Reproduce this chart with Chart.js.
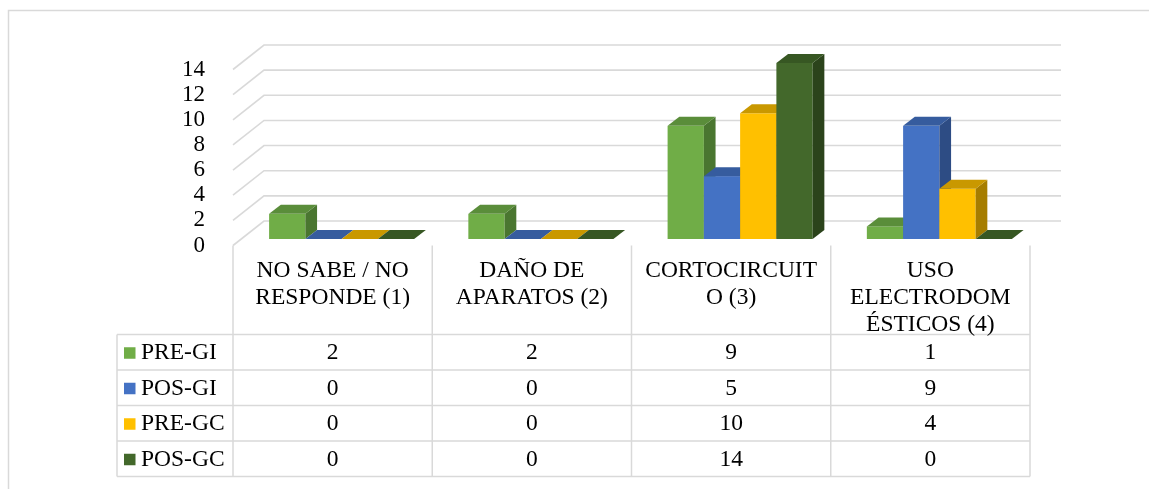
<!DOCTYPE html>
<html lang="es">
<head>
<meta charset="utf-8">
<title>Causas</title>
<script src="https://cdn.jsdelivr.net/npm/chart.js@4/dist/chart.umd.min.js"></script>
<style>
  html, body { margin: 0; padding: 0; background: #fff; }
  #contenedor { width: 1149px; height: 489px; }
</style>
</head>
<body>
<div id="contenedor"><canvas id="graficoCausas" width="1149" height="489"></canvas></div>
<script>
// Datos del gráfico
const categorias = [
    ['NO SABE / NO', 'RESPONDE (1)'],
    ['DAÑO DE', 'APARATOS (2)'],
    ['CORTOCIRCUIT', 'O (3)'],
    ['USO', 'ELECTRODOM', 'ÉSTICOS (4)']
];
const grupos = ['PRE-GI', 'POS-GI', 'PRE-GC', 'POS-GC'];
const preGI = [2, 2, 9, 1];
const posGI = [0, 0, 5, 9];
const preGC = [0, 0, 10, 4];
const posGC = [0, 0, 14, 0];
const marcasY = [0, 2, 4, 6, 8, 10, 12, 14];

const FUENTE = '"Liberation Serif", "Times New Roman", serif';
const GRIS = '#d9d9d9';

// colores de cada serie: cara frontal, superior y lateral
const caras = [
    { frente: '#70ad47', arriba: '#5a8d3a', lado: '#4a7630' },
    { frente: '#4472c4', arriba: '#365c9e', lado: '#2d4c84' },
    { frente: '#ffc000', arriba: '#c99800', lado: '#a67d00' },
    { frente: '#43682b', arriba: '#375723', lado: '#2b431b' }
];

// perspectiva: desplazamientos respecto al plano frontal de las barras
const frente = { dx: -9, dy: 6.5 };
const fondo = { dx: 22, dy: -18 };
const prof = { dx: 11.7, dy: -9 };

// fondo blanco, marco y líneas de la pared
const paredes = {
    id: 'paredes',
    beforeDraw(chart) {
        const { ctx, width, height } = chart;
        ctx.save();
        ctx.fillStyle = '#fff';
        ctx.fillRect(0, 0, width, height);
        ctx.strokeStyle = GRIS;
        ctx.lineWidth = 1.5;
        ctx.strokeRect(8.5, 10.5, width + 20, height + 20);
        ctx.restore();
    },
    beforeDatasetsDraw(chart) {
        const { ctx, chartArea: a, scales: { y } } = chart;
        ctx.save();
        ctx.strokeStyle = GRIS;
        ctx.lineWidth = 1.6;
        marcasY.forEach(v => {
            const py = y.getPixelForValue(v);
            ctx.beginPath();
            ctx.moveTo(a.left + frente.dx, py + frente.dy);
            ctx.lineTo(a.left + fondo.dx, py + fondo.dy);
            ctx.lineTo(a.right + fondo.dx, py + fondo.dy);
            ctx.stroke();
        });
        ctx.restore();
    }
};

// barras en 3D dibujadas a partir de los elementos de Chart.js
const barras3d = {
    id: 'barras3d',
    beforeDatasetDraw() {
        return false;
    },
    afterDatasetsDraw(chart) {
        const ctx = chart.ctx;
        ctx.save();
        chart.data.labels.forEach((_, j) => {
            chart.data.datasets.forEach((ds, i) => {
                const bar = chart.getDatasetMeta(i).data[j];
                const { x, y, base, width } = bar.getProps(['x', 'y', 'base', 'width'], true);
                const l = x - width / 2;
                const r = x + width / 2;
                const c = caras[i];
                if (base - y > 0.5) {
                    ctx.fillStyle = c.frente;
                    ctx.fillRect(l, y, width, base - y);
                    ctx.fillStyle = c.lado;
                    ctx.beginPath();
                    ctx.moveTo(r, y);
                    ctx.lineTo(r + prof.dx, y + prof.dy);
                    ctx.lineTo(r + prof.dx, base + prof.dy);
                    ctx.lineTo(r, base);
                    ctx.closePath();
                    ctx.fill();
                }
                ctx.fillStyle = c.arriba;
                ctx.beginPath();
                ctx.moveTo(l, y);
                ctx.lineTo(r, y);
                ctx.lineTo(r + prof.dx, y + prof.dy);
                ctx.lineTo(l + prof.dx, y + prof.dy);
                ctx.closePath();
                ctx.fill();
            });
        });
        ctx.restore();
    }
};

// tabla de datos bajo el gráfico
const tabla = {
    id: 'tabla',
    afterDraw(chart) {
        const { ctx, chartArea: a, scales: { x } } = chart;
        const n = chart.data.labels.length;
        const paso = x.getPixelForValue(1) - x.getPixelForValue(0);
        const cols = [];
        for (let j = 0; j <= n; j++) cols.push(x.getPixelForValue(0) + (j - 0.5) * paso + frente.dx);
        const izq = 117;
        const arriba = a.bottom + frente.dy;
        const altoCab = 89;
        const altoFila = 35.5;
        const filas = [];
        for (let k = 0; k <= grupos.length; k++) filas.push(arriba + altoCab + k * altoFila);
        const abajo = filas[filas.length - 1];

        ctx.save();
        ctx.strokeStyle = GRIS;
        ctx.lineWidth = 1.5;
        ctx.beginPath();
        cols.forEach(cx => { ctx.moveTo(cx, arriba); ctx.lineTo(cx, abajo); });
        ctx.moveTo(izq, filas[0]); ctx.lineTo(izq, abajo);
        filas.forEach(fy => { ctx.moveTo(izq, fy); ctx.lineTo(cols[n], fy); });
        ctx.stroke();

        ctx.fillStyle = '#000';
        ctx.font = '23.5px ' + FUENTE;
        ctx.textAlign = 'center';
        ctx.textBaseline = 'alphabetic';
        chart.data.labels.forEach((lineas, j) => {
            const cx = (cols[j] + cols[j + 1]) / 2;
            lineas.forEach((t, k) => ctx.fillText(t, cx, arriba + 31 + k * 27));
        });

        ctx.textBaseline = 'middle';
        chart.data.datasets.forEach((ds, i) => {
            const cy = (filas[i] + filas[i + 1]) / 2 + 1;
            ctx.fillStyle = caras[i].frente;
            ctx.fillRect(124, cy - 6, 11.5, 11.5);
            ctx.fillStyle = '#000';
            ctx.textAlign = 'left';
            ctx.fillText(ds.label, 141, cy);
            ctx.textAlign = 'center';
            ds.data.forEach((v, j) => ctx.fillText(String(v), (cols[j] + cols[j + 1]) / 2, cy));
        });
        ctx.restore();
    }
};

document.addEventListener('DOMContentLoaded', () => {
    const ctx = document.getElementById('graficoCausas').getContext('2d');
    const valores = [preGI, posGI, preGC, posGC];

    new Chart(ctx, {
        type: 'bar',
        data: {
            labels: categorias,
            datasets: grupos.map((g, i) => ({
                label: g,
                data: valores[i],
                backgroundColor: caras[i].frente
            }))
        },
        options: {
            responsive: false,
            animation: false,
            categoryPercentage: 0.728,
            barPercentage: 1.0,
            layout: {
                padding: { left: 0, top: 63, right: 110, bottom: 250 }
            },
            scales: {
                x: { display: false },
                y: {
                    min: marcasY[0],
                    max: marcasY[marcasY.length - 1],
                    afterFit: scale => { scale.width = 242; },
                    afterBuildTicks: scale => {
                        scale.ticks = marcasY.map(v => ({ value: v }));
                    },
                    grid: { display: false },
                    border: { display: false },
                    ticks: {
                        autoSkip: false,
                        padding: 29,
                        labelOffset: 6.5,
                        color: '#000',
                        font: { family: FUENTE, size: 23 }
                    }
                }
            },
            plugins: {
                legend: { display: false },
                tooltip: { enabled: false }
            }
        },
        plugins: [paredes, barras3d, tabla]
    });
});
</script>
</body>
</html>
